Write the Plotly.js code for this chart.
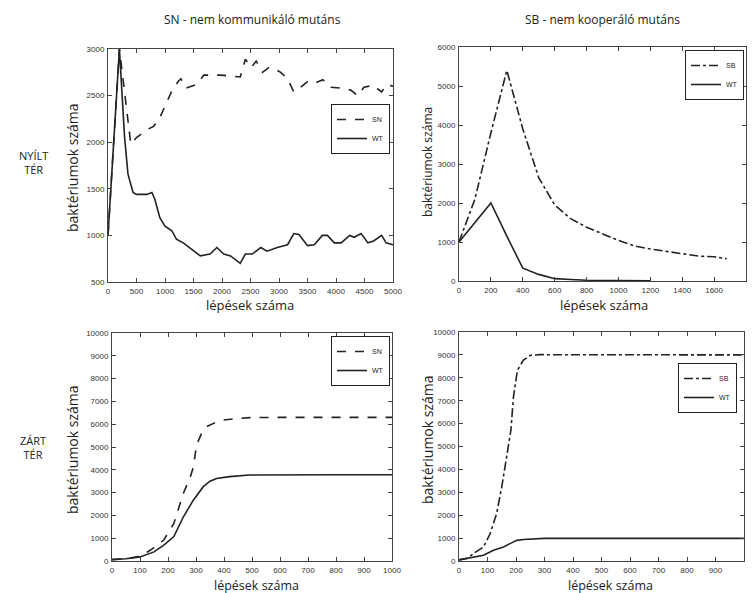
<!DOCTYPE html>
<html><head><meta charset="utf-8">
<script src="https://cdn.plot.ly/plotly-3.0.1.min.js"></script>
<style>body{margin:0;background:#fff}#c{width:752px;height:593px}</style>
</head><body><div id="c"></div>
<script>
// Top-left: NYÍLT TÉR, SN vs WT
const tlX_SN = [0,200,400,500,700,800,900,1030,1120,1240,1280,1370,1560,1680,1970,2320,2410,2510,2600,2710,2820,2910,3030,3150,3260,3380,3500,3610,3770,3910,4080,4260,4380,4490,4650,4800,4900,5000];
const tlY_SN = [1000,3000,1980,2050,2140,2170,2250,2430,2550,2660,2680,2580,2620,2720,2720,2700,2890,2800,2870,2750,2800,2790,2750,2680,2540,2590,2650,2630,2670,2590,2580,2560,2500,2590,2610,2540,2620,2600];
const tlX_WT = [0,200,290,350,380,440,500,680,770,820,910,1000,1120,1200,1320,1500,1620,1790,1910,2030,2150,2320,2410,2530,2680,2790,2970,3150,3260,3350,3500,3620,3760,3850,3970,4090,4240,4320,4440,4560,4660,4800,4880,5000];
const tlY_WT = [1000,3000,2060,1660,1590,1460,1440,1440,1460,1390,1190,1100,1050,960,920,830,780,800,870,800,780,700,800,800,870,830,870,900,1020,1010,890,900,1000,1000,920,920,1000,980,1020,920,940,1000,920,900];
// Top-right: NYÍLT TÉR, SB vs WT
const trX_SB = [0,100,200,300,400,500,600,700,800,900,1000,1100,1200,1300,1400,1500,1600,1680];
const trY_SB = [1000,2100,3800,5400,3900,2650,1950,1600,1380,1200,1040,900,820,760,700,640,620,570];
const trX_WT = [0,200,300,400,500,600,700,800,1000,1200];
const trY_WT = [1000,2000,1150,330,170,60,40,20,10,5];
// Bottom-left: ZÁRT TÉR, SN vs WT
const blX_SN = [0,50,100,138,185,221,255,280,291,302,320,338,370,396,450,491,600,800,1000];
const blY_SN = [60,100,200,480,920,1650,2970,3700,4140,5100,5600,5890,6080,6180,6250,6290,6300,6300,6300];
const blX_WT = [0,50,100,150,185,221,255,291,326,350,373,420,491,600,800,1000];
const blY_WT = [60,100,180,400,700,1070,1940,2680,3260,3500,3620,3700,3770,3780,3780,3780];
// Bottom-right: ZÁRT TÉR, SB vs WT
const brX_SB = [0,30,50,86,109,132,150,168,182,191,205,226,250,285,500,1000];
const brY_SB = [50,120,320,610,1190,2070,3230,4690,5700,7160,8330,8770,8980,9010,9000,9000];
const brX_WT = [0,50,86,121,156,179,203,226,255,300,1000];
const brY_WT = [50,150,250,470,610,760,900,940,970,990,990];

const colTitles = ["SN - nem kommunikáló mutáns","SB - nem kooperáló mutáns"];
const rowTitles = ["NYÍLT<br>TÉR","ZÁRT<br>TÉR"];
const yTitle = "baktériumok száma";
const xTitle = "lépések száma";

const W=752,H=593;
const px=v=>v/W, py=v=>1-v/H;
const ln = '#222';
function tr(x,y,name,dash,xa,ya,leg){
  return {x:x,y:y,name:name,type:'scatter',mode:'lines',xaxis:xa,yaxis:ya,legend:leg,
    line:{color:ln,width:1.6,dash:dash}};
}
const data=[
  tr(tlX_SN,tlY_SN,'SN','dash','x','y','legend'),
  tr(tlX_WT,tlY_WT,'WT','solid','x','y','legend'),
  tr(trX_SB,trY_SB,'SB','dashdot','x2','y2','legend2'),
  tr(trX_WT,trY_WT,'WT','solid','x2','y2','legend2'),
  tr(blX_SN,blY_SN,'SN','dash','x3','y3','legend3'),
  tr(blX_WT,blY_WT,'WT','solid','x3','y3','legend3'),
  tr(brX_SB,brY_SB,'SB','dashdot','x4','y4','legend4'),
  tr(brX_WT,brY_WT,'WT','solid','x4','y4','legend4')
];
const tf={family:'Liberation Sans, Arial, sans-serif',size:8,color:'#333'};
function ax(dom,range,dtick,anchor){
  return {domain:dom,range:range,dtick:dtick,anchor:anchor,showline:true,mirror:'ticks',
    linecolor:'#444',linewidth:1,ticks:'inside',ticklen:4,tickcolor:'#444',showgrid:false,
    zeroline:false,tickfont:tf,fixedrange:true,ticklabelstandoff:1,tickformat:'d'};
}
function lg(x,y){
  return {x:x,y:y,xanchor:'right',yanchor:'top',bordercolor:'#222',borderwidth:1,
    bgcolor:'#fff',font:{family:'Liberation Sans, Arial, sans-serif',size:7,color:'#222'},
    tracegroupgap:0,itemwidth:30};
}
const tfont={family:'Open Sans, sans-serif',color:'#222'};
function ann(text,x,y,size,rot){
  return {text:text,x:px(x),y:py(y),xref:'paper',yref:'paper',showarrow:false,
    xanchor:'center',yanchor:'middle',textangle:rot||0,font:Object.assign({size:size},tfont)};
}
const layout={
  width:W,height:H,margin:{l:0,r:0,t:0,b:0},paper_bgcolor:'#fff',plot_bgcolor:'#fff',
  showlegend:true,
  xaxis:ax([px(108),px(393)],[0,5000],500,'y'),
  yaxis:ax([py(282),py(49)],[500,3000],500,'x'),
  xaxis2:ax([px(459),px(746)],[0,1800],200,'y2'),
  yaxis2:ax([py(281),py(47)],[0,6000],1000,'x2'),
  xaxis3:ax([px(112),px(392)],[0,1000],100,'y3'),
  yaxis3:ax([py(561),py(333)],[0,10000],1000,'x3'),
  xaxis4:ax([px(459),px(744)],[0,1000],100,'y4'),
  yaxis4:ax([py(561),py(332)],[0,10000],1000,'x4'),
  legend:lg(px(390),py(104)),
  legend2:lg(px(744),py(50)),
  legend3:lg(px(390),py(336)),
  legend4:lg(px(737),py(363)),
  annotations:[
    ann(colTitles[0],252,20,12),
    ann(colTitles[1],602,20,12),
    ann(rowTitles[0],33,162,11),
    ann(rowTitles[1],33,447,11),
    ann(yTitle,72,168,14,-90),
    ann(yTitle,427,162,12,-90),
    ann(yTitle,72,450,14,-90),
    ann(yTitle,427,440,14,-90),
    ann(xTitle,250,305,13),
    ann(xTitle,604,305,13),
    ann(xTitle,256,585,12.5),
    ann(xTitle,610,585,12.5)
  ]
};
Plotly.newPlot('c',data,layout,{staticPlot:true,displayModeBar:false});
</script></body></html>
